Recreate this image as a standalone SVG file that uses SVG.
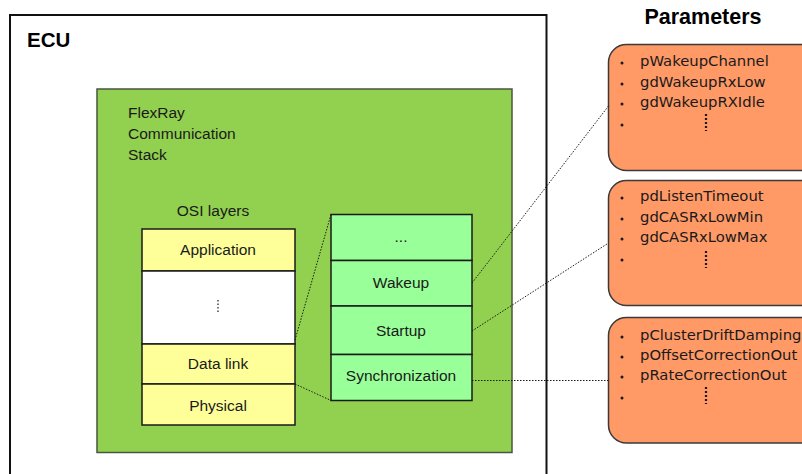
<svg xmlns="http://www.w3.org/2000/svg" width="802" height="474" viewBox="0 0 802 474">
<style>
.t{font-family:"Liberation Sans",Arial,sans-serif;font-size:15.5px;fill:#1a1a1a}
.c{text-anchor:middle}
.b{font-weight:bold;fill:#000}
.p{font-family:"DejaVu Sans",Verdana,sans-serif;font-size:14.8px;fill:#1a1a1a}
.bul{fill:#1a1a1a}
.osi{fill:#FFFF99;stroke:#1a1a1a;stroke-width:1.5}
.blk{fill:#99FF99;stroke:#1a1a1a;stroke-width:1.5}
.par{fill:#FF9966;stroke:#3a3a3a;stroke-width:1.5}
.dot{fill:none;stroke:#1a1a1a;stroke-width:1;stroke-dasharray:1.5 1.5}
.vd{fill:none;stroke:#1a1a1a;stroke-width:2.2;stroke-dasharray:2 2}
</style>
<rect width="802" height="474" fill="#fff"/>
<g id="ecu">
<rect x="10" y="15" width="536.5" height="470" fill="#fff" stroke="#111" stroke-width="2"/>
<text x="27" y="47" class="t b" style="font-size:20.5px">ECU</text>
</g>
<g id="stack">
<rect x="97" y="89" width="415" height="363.5" fill="#92D050" stroke="#4a5540" stroke-width="1.5"/>
<text class="t" x="128" y="118">FlexRay</text>
<text class="t" x="128" y="139">Communication</text>
<text class="t" x="128" y="159.5">Stack</text>
</g>
<g id="osi">
<text class="t c" x="213" y="216">OSI layers</text>
<rect class="osi" x="142" y="229" width="153" height="42"/>
<text class="t c" x="218" y="255">Application</text>
<rect x="142" y="271" width="153" height="73" fill="#fff" stroke="#1a1a1a" stroke-width="1.5"/>
<line class="vd" x1="218" y1="300" x2="218" y2="313" style="stroke-width:1.2;stroke-dasharray:1.5 2"/>
<rect class="osi" x="142" y="344" width="153" height="40"/>
<text class="t c" x="218" y="369">Data link</text>
<rect class="osi" x="142" y="384" width="153" height="41"/>
<text class="t c" x="218" y="411">Physical</text>
</g>
<g id="datalink-blocks">
<rect class="blk" x="331" y="214.5" width="141" height="46"/>
<text class="t c" x="401" y="242">...</text>
<rect class="blk" x="331" y="260.5" width="141" height="45.5"/>
<text class="t c" x="401" y="288">Wakeup</text>
<rect class="blk" x="331" y="306" width="141" height="48.5"/>
<text class="t c" x="401" y="336">Startup</text>
<rect class="blk" x="331" y="354.5" width="141" height="46"/>
<text class="t c" x="401" y="381">Synchronization</text>
</g>
<g id="parameters">
<text class="t b c" x="703" y="24" style="font-size:21.5px">Parameters</text>
</g>
<g id="wakeup-params">
<rect class="par" x="608.5" y="44.5" width="215" height="126" rx="18"/>
<text class="p" x="640" y="66">pWakeupChannel</text>
<text class="p" x="640" y="86.5">gdWakeupRxLow</text>
<text class="p" x="640" y="106.5">gdWakeupRXIdle</text>
<circle class="bul" cx="622" cy="63" r="1.5"/><circle class="bul" cx="622" cy="84" r="1.5"/><circle class="bul" cx="622" cy="104" r="1.5"/><circle class="bul" cx="622" cy="125" r="1.5"/>
<line class="vd" x1="706" y1="114" x2="706" y2="131"/>
</g>
<g id="startup-params">
<rect class="par" x="608.5" y="180.5" width="215" height="125" rx="18"/>
<text class="p" x="640" y="201">pdListenTimeout</text>
<text class="p" x="640" y="222">gdCASRxLowMin</text>
<text class="p" x="640" y="242">gdCASRxLowMax</text>
<circle class="bul" cx="622" cy="198" r="1.5"/><circle class="bul" cx="622" cy="219" r="1.5"/><circle class="bul" cx="622" cy="239" r="1.5"/><circle class="bul" cx="622" cy="260" r="1.5"/>
<line class="vd" x1="706" y1="251" x2="706" y2="268"/>
</g>
<g id="sync-params">
<rect class="par" x="608.5" y="317.5" width="215" height="125.5" rx="18"/>
<text class="p" x="640" y="340">pClusterDriftDamping</text>
<text class="p" x="640" y="360">pOffsetCorrectionOut</text>
<text class="p" x="640" y="380">pRateCorrectionOut</text>
<circle class="bul" cx="622" cy="337" r="1.5"/><circle class="bul" cx="622" cy="357" r="1.5"/><circle class="bul" cx="622" cy="377" r="1.5"/><circle class="bul" cx="622" cy="398" r="1.5"/>
<line class="vd" x1="706" y1="387" x2="706" y2="404"/>
</g>
<g id="connectors">
<line class="dot" x1="295" y1="340" x2="331" y2="214.5"/>
<line class="dot" x1="295" y1="384" x2="331" y2="400.5"/>
<line class="dot" x1="472" y1="283" x2="608.5" y2="106"/>
<line class="dot" x1="472" y1="331" x2="608.5" y2="243"/>
<line class="dot" x1="472" y1="380.5" x2="608.5" y2="380.5"/>
</g>
</svg>
